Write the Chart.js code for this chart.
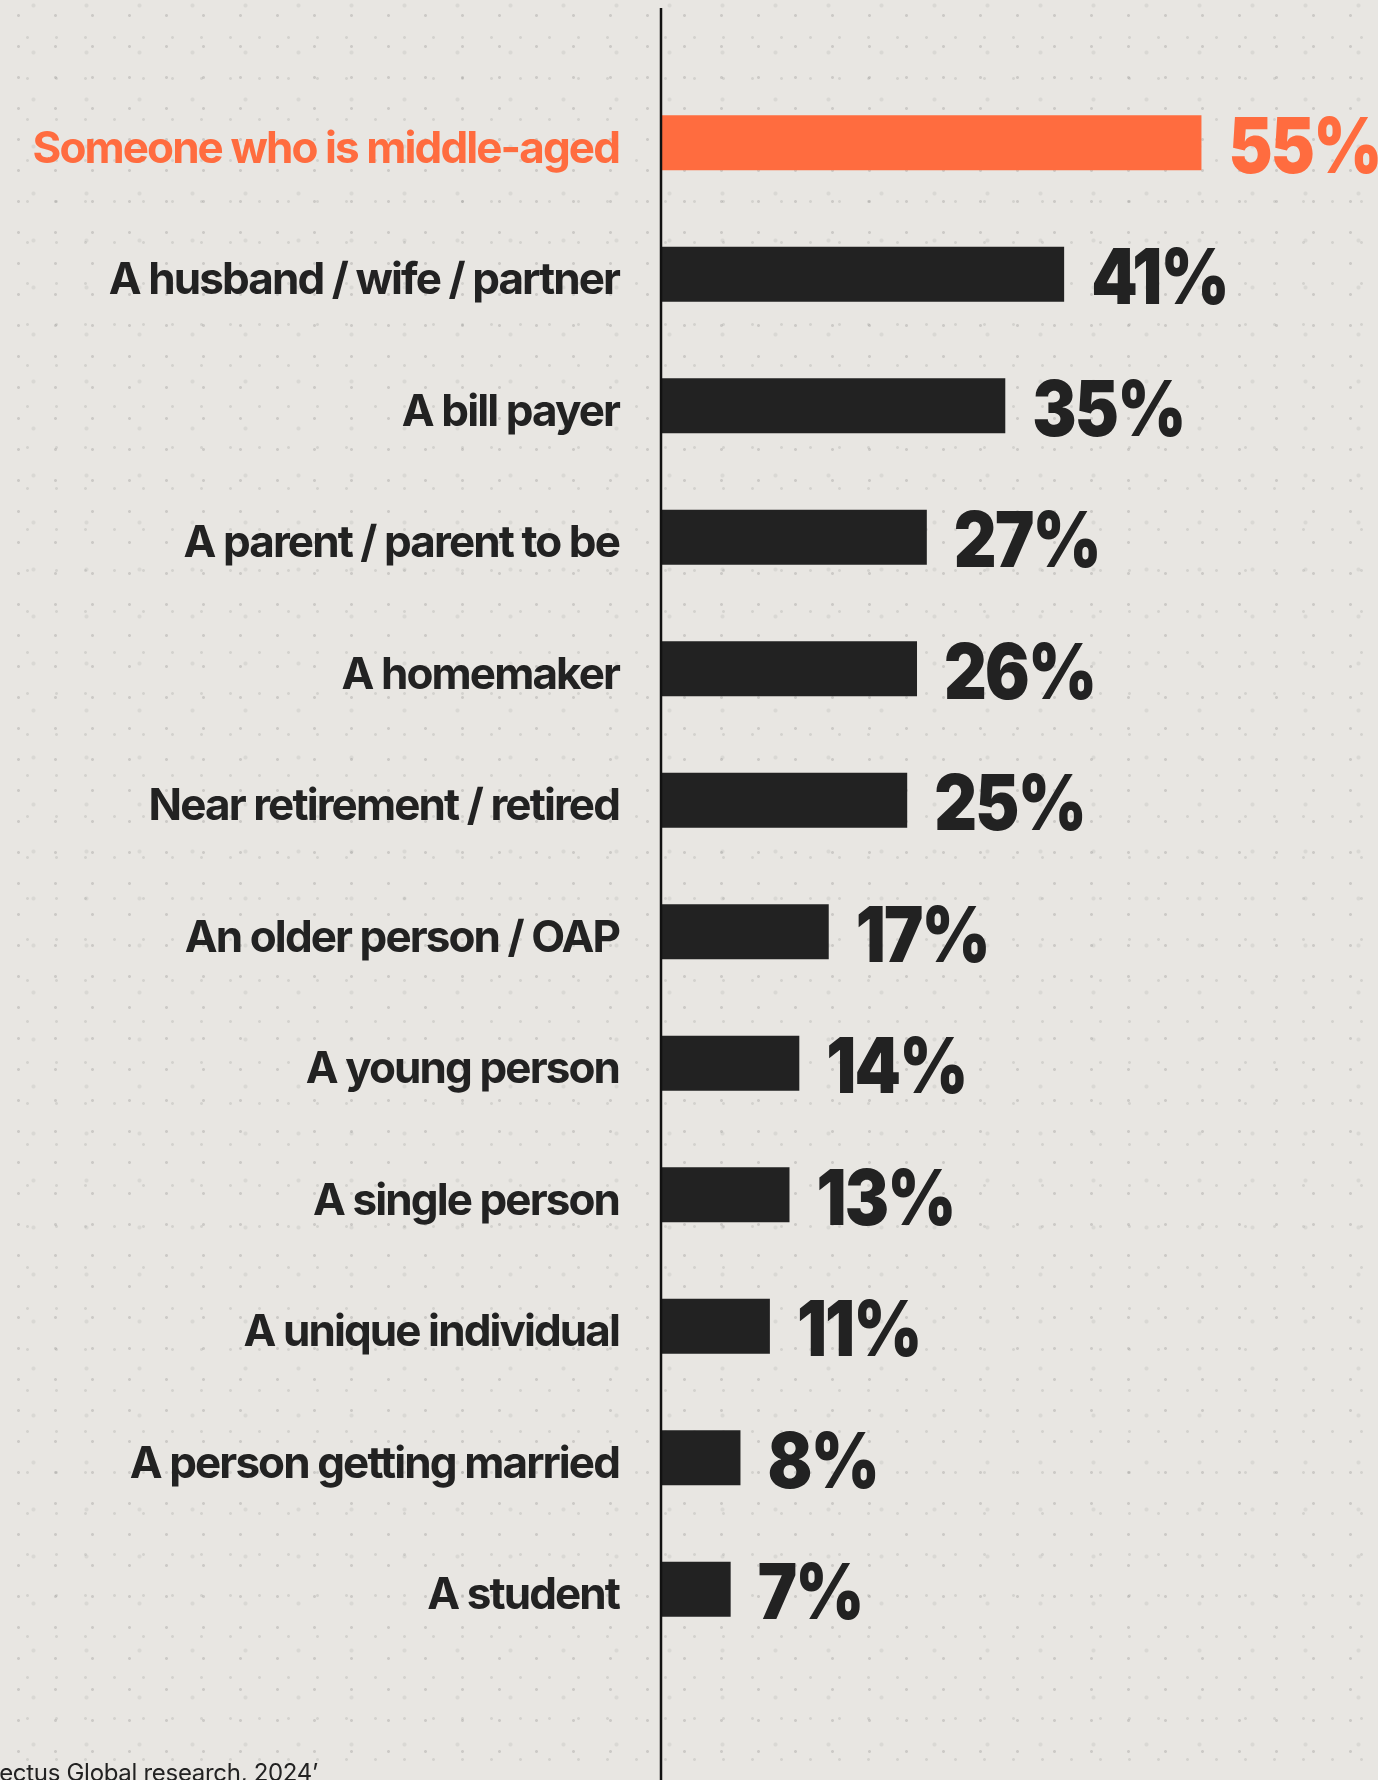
<!DOCTYPE html>
<html>
<head>
<meta charset="utf-8">
<script src="https://cdn.jsdelivr.net/npm/chart.js@4.4.1/dist/chart.umd.min.js"></script>
<style>
  html, body {
    margin: 0;
    padding: 0;
  }
  body {
    width: 1378px;
    height: 1780px;
    overflow: hidden;
    position: relative;
    background-color: #e8e6e2;
    background-image:
      radial-gradient(circle, rgba(90, 90, 90, 0.2) 1px, transparent 1.9px),
      radial-gradient(circle, rgba(90, 90, 90, 0.14) 1px, transparent 1.9px),
      radial-gradient(circle, rgba(90, 90, 90, 0.1) 1.5px, transparent 2.5px);
    background-size: 37px 31px, 29px 41px, 53px 47px;
    background-position: 0 0, 13px 17px, 7px 29px;
  }
  #wrap {
    position: absolute;
    left: 0;
    top: 0;
    width: 1378px;
    height: 1780px;
  }
  #source {
    position: absolute;
    right: 1060px;
    top: 1758px;
    font-family: Inter, "Noto Sans", sans-serif;
    font-size: 24px;
    letter-spacing: -0.3px;
    color: #222;
    white-space: nowrap;
  }
</style>
</head>
<body>
<div id="wrap"><canvas id="myChart" width="1378" height="1780"></canvas></div>
<div id="source">Source: 'Prospectus Global research, 2024’</div>
<script>
const categories = [
  "Someone who is middle-aged",
  "A husband / wife / partner",
  "A bill payer",
  "A parent / parent to be",
  "A homemaker",
  "Near retirement / retired",
  "An older person / OAP",
  "A young person",
  "A single person",
  "A unique individual",
  "A person getting married",
  "A student",
];
const values = [55, 41, 35, 27, 26, 25, 17, 14, 13, 11, 8, 7];

const colors = {
  orange: "#ff6c3f",
  dark: "#222222",
  axis: "#111111",
};

const barColors = values.map((v, i) => (i === 0 ? colors.orange : colors.dark));

const ctx = document.getElementById("myChart");

// vertical axis line running the full height, plus the % labels
const decor = {
  id: "decor",
  beforeDraw(chart) {
    chart.ctx.letterSpacing = "-1.9px";
  },
  afterDatasetsDraw(chart) {
    const c = chart.ctx;
    const x = chart.scales.x.getPixelForValue(0);
    c.save();
    c.letterSpacing = "0px";
    c.strokeStyle = colors.axis;
    c.lineWidth = 2.5;
    c.beginPath();
    c.moveTo(x - 1, 8);
    c.lineTo(x - 1, chart.height);
    c.stroke();

    const meta = chart.getDatasetMeta(0);
    c.font = "900 77px Inter";
    c.textAlign = "left";
    c.textBaseline = "alphabetic";
    meta.data.forEach((bar, i) => {
      c.save();
      c.fillStyle = barColors[i];
      c.translate(bar.x + 27, bar.y + 30);
      c.scale(0.86, 1);
      c.letterSpacing = "-2px";
      c.fillText(values[i] + "%", 0, 0);
      c.restore();
    });
    c.restore();
  },
  afterDraw(chart) {
    chart.ctx.letterSpacing = "0px";
  },
};

new Chart(ctx, {
  type: "bar",
  data: {
    labels: categories,
    datasets: [
      {
        data: values,
        backgroundColor: barColors,
        barPercentage: 0.418,
        categoryPercentage: 1,
      },
    ],
  },
  options: {
    indexAxis: "y",
    responsive: false,
    animation: false,
    layout: {
      padding: { top: 77, bottom: 125, right: 0, left: 0 },
    },
    plugins: {
      legend: { display: false },
      tooltip: { enabled: false },
    },
    scales: {
      x: {
        min: 0,
        max: 73,
        display: false,
      },
      y: {
        afterFit(scale) {
          scale.width = 662;
        },
        grid: { display: false, drawTicks: false },
        border: { display: false },
        ticks: {
          padding: 43,
          labelOffset: 7,
          color: (c) => (c.index === 0 ? colors.orange : colors.dark),
          font: {
            family: "Inter",
            size: 44,
            weight: "700",
          },
        },
      },
    },
  },
  plugins: [decor],
});
</script>
</body>
</html>
